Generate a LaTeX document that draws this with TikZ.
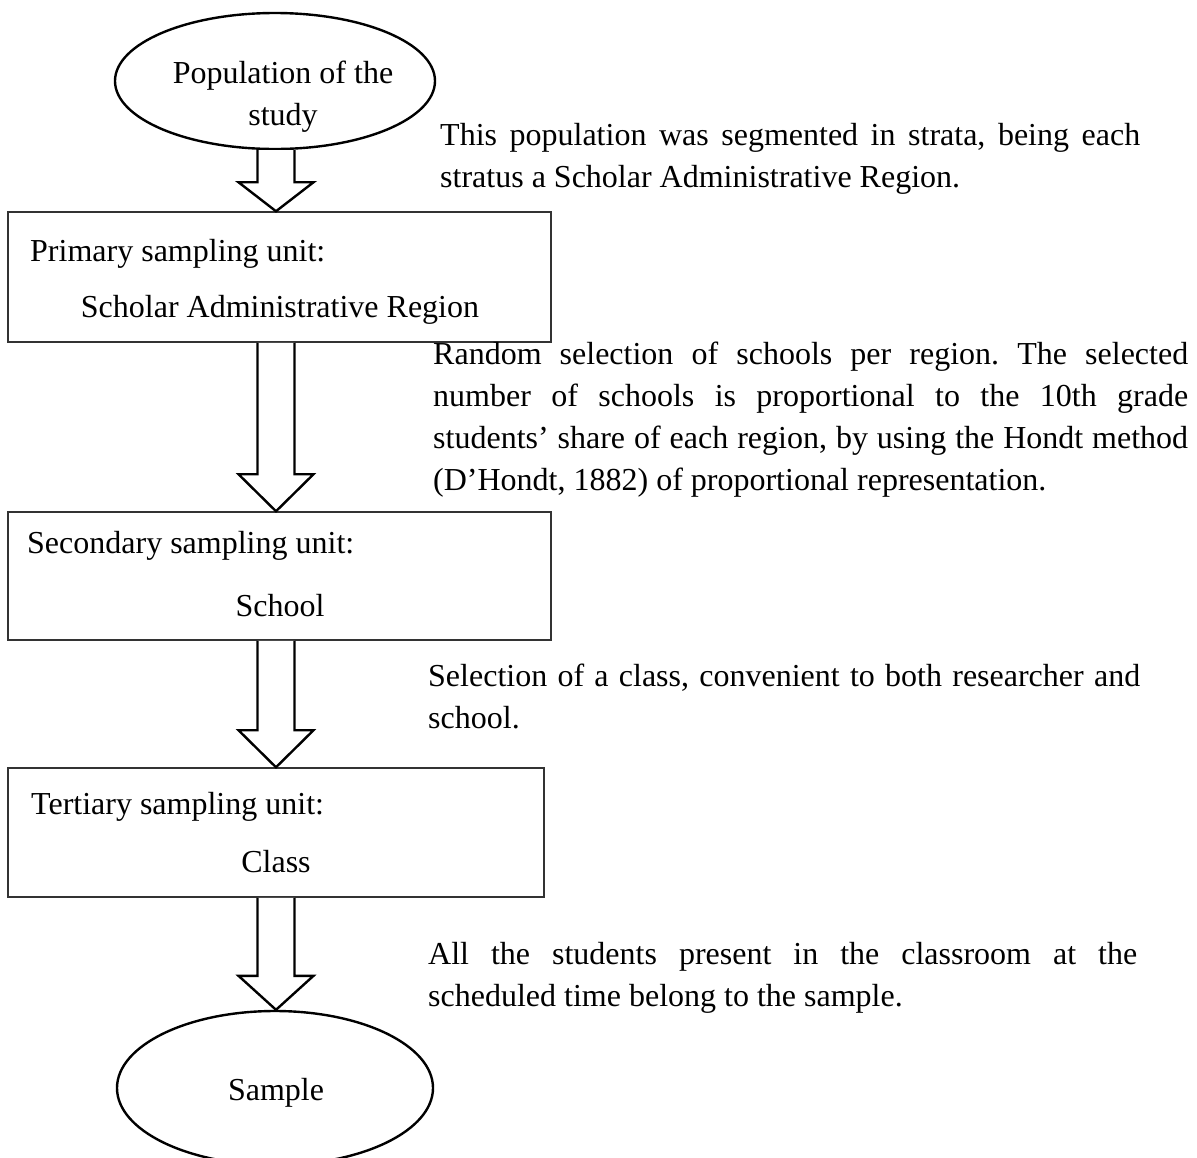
\documentclass[tikz,border=0pt]{standalone}
\usepackage{fontspec}
\setmainfont{Liberation Serif}
\frenchspacing
\usetikzlibrary{shapes.geometric,calc}
\tikzset{
  txt/.style={font=\fontsize{32}{42}\selectfont, inner sep=0pt, text=black},
  para/.style={txt, anchor=north west, align=justify},
  unitbox/.style={draw=black!80, line width=1.5pt, rectangle, inner sep=0pt},
  oval/.style={draw=black, line width=2.4pt, ellipse, inner sep=0pt},
  hollow/.style={draw=black, line width=2.4pt, line join=miter, fill=white},
}
% hollow block arrow from node anchor #1 to node anchor #2, head length #3 (pt)
\newcommand\hollowarrow[3]{%
  \draw[hollow] let \p1=(#1), \p2=(#2) in
    (257.5pt,\y1) -- (257.5pt,\y2+#3pt) -- (238.5pt,\y2+#3pt) -- (276pt,\y2)
    -- (313.5pt,\y2+#3pt) -- (294.5pt,\y2+#3pt) -- (294.5pt,\y1);%
}
\begin{document}
\begin{tikzpicture}[x=1pt,y=-1pt]
\useasboundingbox (0,0) rectangle (1197,1157);

% ovals and boxes
\node[oval, minimum width=320pt, minimum height=136pt] (pop) at (275,81) {};
\node[unitbox, minimum width=543pt, minimum height=130pt] (box1) at (279.5,277) {};
\node[unitbox, minimum width=543pt, minimum height=128pt] (box2) at (279.5,576) {};
\node[unitbox, minimum width=536pt, minimum height=129pt] (box3) at (276,832.5) {};
\node[oval, minimum width=316pt, minimum height=154pt] (sample) at (275,1088) {};

% texts inside shapes
\node[txt, align=center, anchor=north] (poptext) at (283,61) {Population of the\\study};
\node[txt, anchor=base west] (b1a) at (30,261) {Primary sampling unit:};
\node[txt, anchor=base] (b1b) at (280,317) {Scholar Administrative Region};
\node[txt, anchor=base west] (b2a) at (27,553) {Secondary sampling unit:};
\node[txt, anchor=base] (b2b) at (280,616) {School};
\node[txt, anchor=base west] (b3a) at (31,814) {Tertiary sampling unit:};
\node[txt, anchor=base] (b3b) at (276,872) {Class};
\node[txt, anchor=base] (sampletext) at (276,1100) {Sample};

% block arrows
\hollowarrow{pop.south}{box1.north}{29}
\hollowarrow{box1.south}{box2.north}{37}
\hollowarrow{box2.south}{box3.north}{37}
\hollowarrow{box3.south}{sample.north}{34}

% side explanations
\node[para, text width=700pt] (n1) at (440,123)
  {This population was segmented in strata, being each\linebreak stratus a Scholar Administrative Region.};
\node[para, text width=755pt] (n2) at (433,342)
  {Random selection of schools per region. The selected\linebreak number of schools is proportional to the 10th grade\linebreak students’ share of each region, by using the Hondt method\linebreak (D’Hondt, 1882) of proportional representation.};
\node[para, text width=712pt] (n3) at (428,664)
  {Selection of a class, convenient to both researcher and\linebreak school.};
\node[para, text width=709pt] (n4) at (428,942)
  {All the students present in the classroom at the\linebreak scheduled time belong to the sample.};
\end{tikzpicture}
\end{document}
